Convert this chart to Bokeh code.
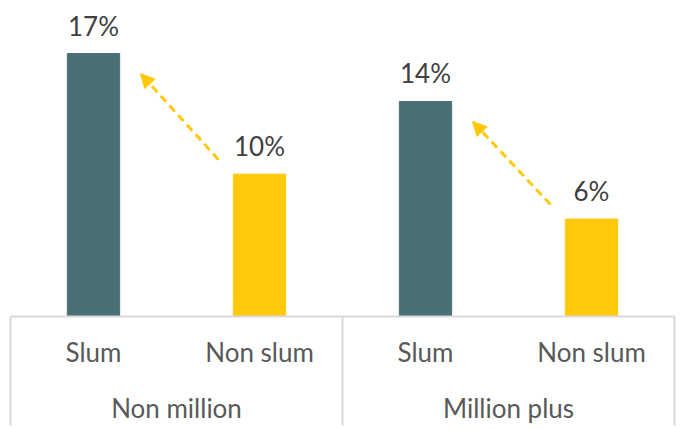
from bokeh.plotting import figure
from bokeh.models import Range1d, Arrow, NormalHead, ColumnDataSource
from bokeh.core.properties import value
from bokeh.embed import file_html
from bokeh.resources import INLINE

# ---- data ----
groups = ["Non million", "Million plus"]
subcats = ["Slum", "Non slum"]
slum_vals = [17.0, 13.9]
nonslum_vals = [9.2, 6.3]
slum_labels = ["17%", "14%"]
nonslum_labels = ["10%", "6%"]

# ---- style ----
SLUM_COLOR = "#4a6f74"
NONSLUM_COLOR = "#ffc90a"
LINE_COLOR = "#d9d9d9"
FONT = value("Lato")
PX_X = 166.0      # pixels per category slot
PX_Y = 15.47      # pixels per percent

n_sub = len(subcats)
n_cat = len(groups) * n_sub

p = figure(width=683, height=429, output_backend="svg", toolbar_location=None,
           x_range=Range1d(-10 / PX_X, n_cat + 9 / PX_X),
           y_range=Range1d(-113 / PX_Y, 316 / PX_Y),
           x_axis_location=None, y_axis_location=None,
           min_border=0, min_border_left=0, min_border_right=0,
           min_border_top=0, min_border_bottom=0)
p.grid.visible = False
p.outline_line_color = None
p.background_fill_color = "white"
p.border_fill_color = "white"

# bars
xs, tops, colors, labels = [], [], [], []
for gi in range(len(groups)):
    xs += [gi * n_sub + 0.5, gi * n_sub + 1.5]
    tops += [slum_vals[gi], nonslum_vals[gi]]
    colors += [SLUM_COLOR, NONSLUM_COLOR]
    labels += [slum_labels[gi], nonslum_labels[gi]]
src = ColumnDataSource(dict(x=xs, top=tops, color=colors, label=labels))
p.vbar(x="x", top="top", width=0.315, color="color", source=src)
p.text(x="x", y="top", text="label", source=src, y_offset=-28,
       text_align="center", text_baseline="middle", text_font=FONT,
       text_font_size="26px", text_color="#404040")

# axis structure
bottom = p.y_range.start + 4 / PX_Y
p.segment(x0=[0], y0=[0], x1=[n_cat], y1=[0], line_color=LINE_COLOR, line_width=2)
bounds = [gi * n_sub for gi in range(len(groups) + 1)]
p.segment(x0=bounds, y0=[0] * len(bounds), x1=bounds, y1=[bottom] * len(bounds),
          line_color=LINE_COLOR, line_width=2)

# category labels
sub_x = [gi * n_sub + si + 0.5 for gi in range(len(groups)) for si in range(n_sub)]
sub_t = [s for _ in groups for s in subcats]
p.text(x=sub_x, y=[0] * len(sub_x), text=sub_t, y_offset=35,
       text_align="center", text_baseline="middle", text_font=FONT,
       text_font_size="26px", text_color="#595959")
grp_x = [gi * n_sub + n_sub / 2 for gi in range(len(groups))]
p.text(x=grp_x, y=[0] * len(grp_x), text=groups, y_offset=91,
       text_align="center", text_baseline="middle", text_font=FONT,
       text_font_size="26px", text_color="#595959")

# arrows from non-slum to slum
arr = ColumnDataSource(dict(
    x0=[gi * n_sub + 1.5 - 0.247 for gi in range(len(groups))],
    y0=[v + 0.94 for v in nonslum_vals],
    x1=[gi * n_sub + 0.5 + 0.283 for gi in range(len(groups))],
    y1=[v - 1.29 for v in slum_vals],
))
p.add_layout(Arrow(end=NormalHead(size=14, fill_color=NONSLUM_COLOR, line_color=NONSLUM_COLOR),
                   x_start="x0", y_start="y0", x_end="x1", y_end="y1", source=arr,
                   line_color=NONSLUM_COLOR, line_width=3, line_dash="8 5"))

open("out.html", "w").write(file_html(p, INLINE))
